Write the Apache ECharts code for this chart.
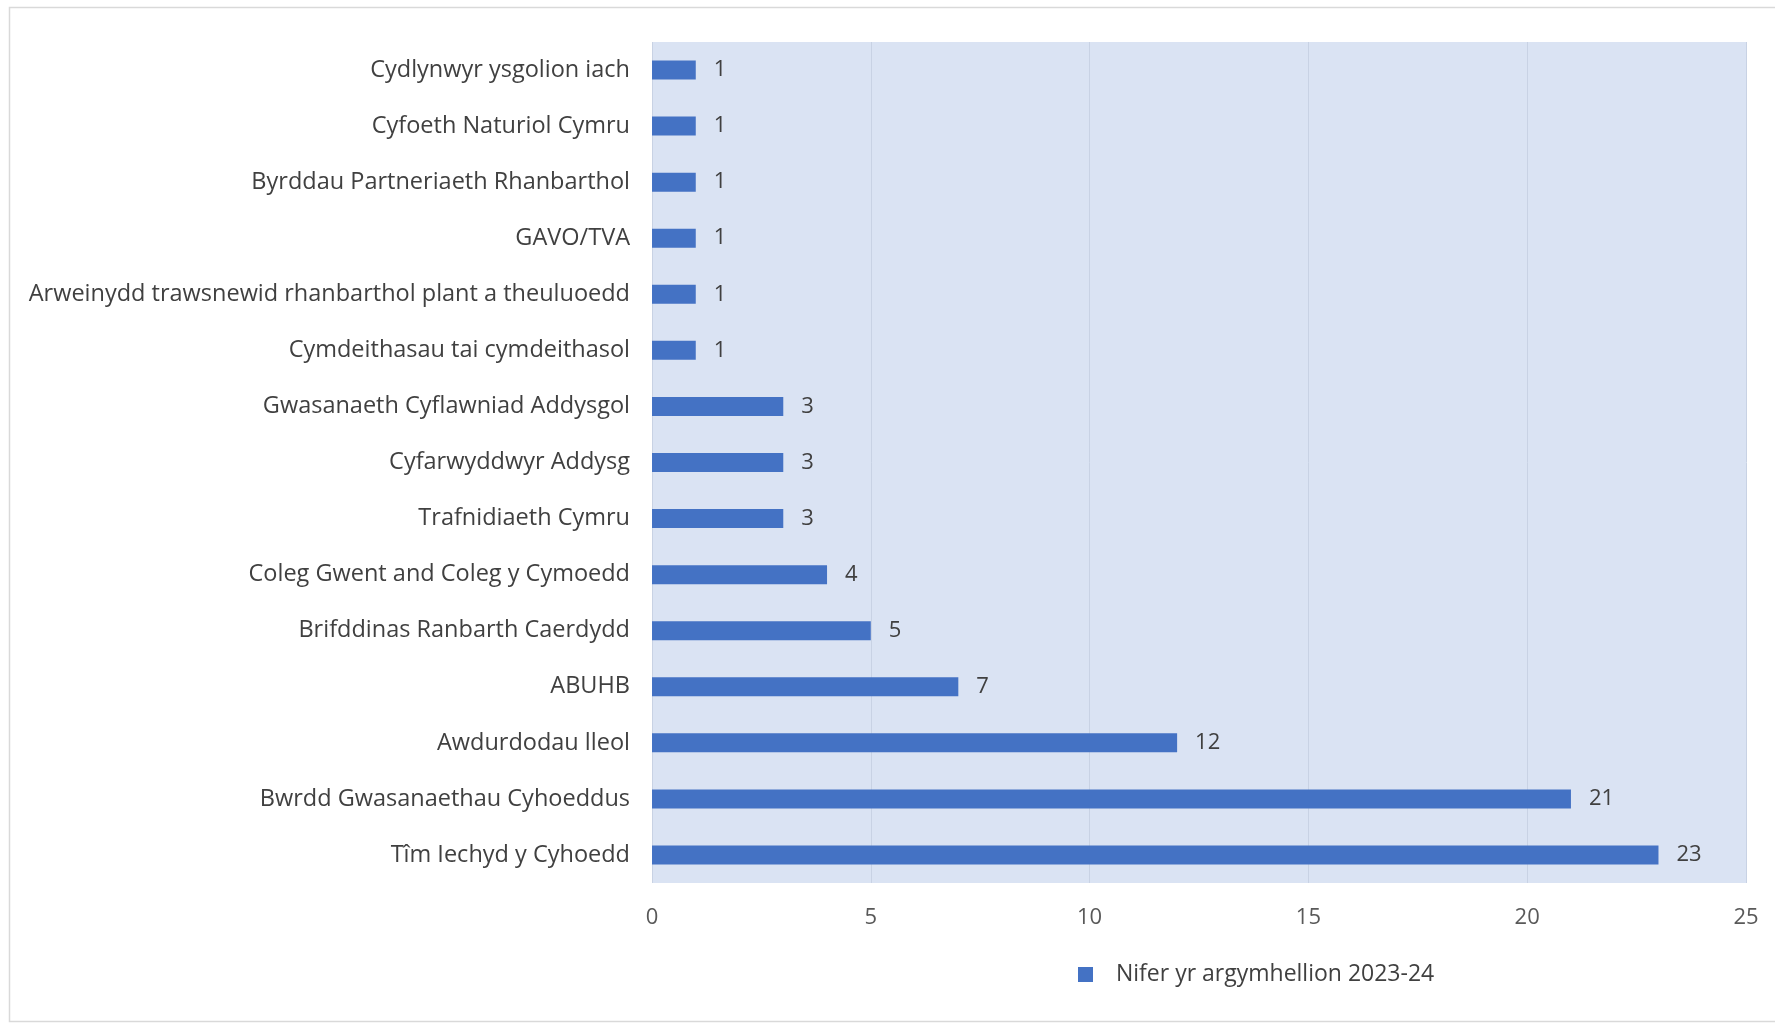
<!DOCTYPE html>
<html>
<head>
<meta charset="utf-8">
<script src="https://cdn.jsdelivr.net/npm/echarts@6/dist/echarts.min.js"></script>
<style>
html,body{margin:0;padding:0;background:#fff;}
#chart{width:1775px;height:1026px;}
</style>
</head>
<body>
<div id="chart"></div>
<script>
const categories = [
  'Cydlynwyr ysgolion iach',
  'Cyfoeth Naturiol Cymru',
  'Byrddau Partneriaeth Rhanbarthol',
  'GAVO/TVA',
  'Arweinydd trawsnewid rhanbarthol plant a theuluoedd',
  'Cymdeithasau tai cymdeithasol',
  'Gwasanaeth Cyflawniad Addysgol',
  'Cyfarwyddwyr Addysg',
  'Trafnidiaeth Cymru',
  'Coleg Gwent and Coleg y Cymoedd',
  'Brifddinas Ranbarth Caerdydd',
  'ABUHB',
  'Awdurdodau lleol',
  'Bwrdd Gwasanaethau Cyhoeddus',
  'Tîm Iechyd y Cyhoedd'
];
const values = [1, 1, 1, 1, 1, 1, 3, 3, 3, 4, 5, 7, 12, 21, 23];
const seriesName = 'Nifer yr argymhellion 2023-24';
const xTicks = [0, 5, 10, 15, 20, 25];

const chart = echarts.init(document.getElementById('chart'), null, {renderer: 'canvas'});
const FONT = 'Open Sans';
chart.setOption({
  animation: false,
  backgroundColor: '#ffffff',
  graphic: [{
    type: 'rect',
    shape: {x: 9.5, y: 7.5, width: 1800, height: 1014},
    style: {fill: 'none', stroke: '#d9d9d9', lineWidth: 1.5},
    z: 0
  }],
  grid: {
    left: 652, right: 29, top: 42, bottom: 143,
    show: true, backgroundColor: '#dae3f3', borderWidth: 0
  },
  legend: {
    left: 1073, top: 958,
    icon: 'rect', itemWidth: 15, itemHeight: 15, itemGap: 10,
    textStyle: {fontFamily: FONT, fontSize: 23, color: '#404040', padding: [0, 0, 0, 18]},
    data: [seriesName]
  },
  xAxis: {
    type: 'value', min: xTicks[0], max: xTicks[xTicks.length - 1], interval: 5,
    axisLine: {show: false}, axisTick: {show: false},
    axisLabel: {fontFamily: FONT, fontSize: 22, color: '#595959', margin: 24},
    splitLine: {show: true, lineStyle: {color: '#c8d2e4', width: 1}}
  },
  yAxis: {
    type: 'category', data: categories, inverse: true,
    axisLine: {show: false}, axisTick: {show: false},
    axisLabel: {fontFamily: FONT, fontSize: 23.5, color: '#404040', margin: 22}
  },
  series: [{
    name: seriesName,
    type: 'bar',
    data: values,
    barWidth: 19,
    itemStyle: {color: '#4472c4'},
    label: {
      show: true, position: 'right', distance: 18,
      fontFamily: FONT, fontSize: 22, color: '#404040'
    }
  }]
});
</script>
</body>
</html>
